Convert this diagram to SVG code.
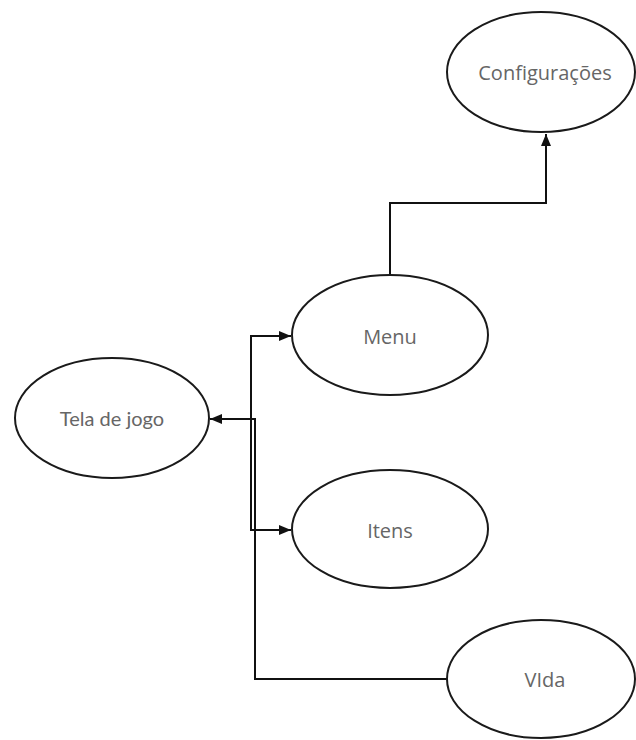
<svg xmlns="http://www.w3.org/2000/svg" width="636" height="740" viewBox="0 0 636 740">
<style>
.node ellipse{fill:#fff;stroke:#1a1a1a;stroke-width:2}
.node text{font-family:"Open Sans","DejaVu Sans",sans-serif;font-size:20px;fill:#666;text-anchor:middle}
.conn path{fill:none;stroke:#111;stroke-width:2}
</style>
<defs>
<marker id="arr" viewBox="0 0 12 10" refX="12" refY="5" markerWidth="12" markerHeight="10" markerUnits="userSpaceOnUse" orient="auto">
<path d="M0,0 L12,5 L0,10 Z" fill="#111"/>
</marker>
</defs>
<rect width="636" height="740" fill="#fff"/>
<g id="connectors" class="conn">
<path d="M390,276 V203 H546 V134" marker-end="url(#arr)"/>
<path d="M211,419 H251 V336 H291" marker-end="url(#arr)"/>
<path d="M251,419 V530 H291" marker-end="url(#arr)"/>
<path d="M447,679 H255 V419 H210" marker-end="url(#arr)"/>
</g>
<g id="configuracoes" class="node"><ellipse cx="541" cy="72" rx="94" ry="60"/><text x="545" y="80">Configurações</text></g>
<g id="menu" class="node"><ellipse cx="390" cy="335" rx="98" ry="60"/><text x="390" y="344">Menu</text></g>
<g id="tela" class="node"><ellipse cx="112" cy="418" rx="97" ry="60"/><text x="112" y="426" style="font-family:Lato,'Open Sans',sans-serif">Tela de jogo</text></g>
<g id="itens" class="node"><ellipse cx="390" cy="529" rx="98" ry="59"/><text x="390" y="538">Itens</text></g>
<g id="vida" class="node"><ellipse cx="541" cy="679" rx="94" ry="59"/><text x="545" y="687">VIda</text></g>
</svg>
